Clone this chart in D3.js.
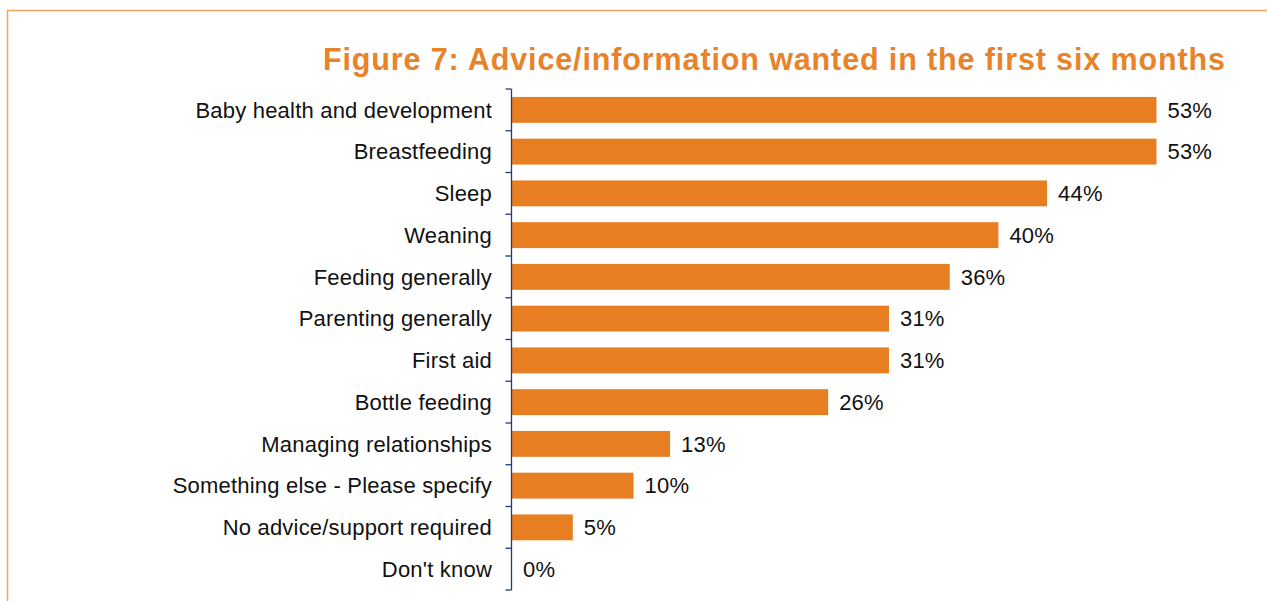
<!DOCTYPE html>
<html>
<head>
<meta charset="utf-8">
<script src="https://cdn.jsdelivr.net/npm/d3@7"></script>
<style>
  html, body { margin: 0; padding: 0; background: #fff; }
  svg { display: block; }
</style>
</head>
<body>
<svg id="chart" width="1267" height="601"></svg>
<script>
const categories = [
  "Baby health and development",
  "Breastfeeding",
  "Sleep",
  "Weaning",
  "Feeding generally",
  "Parenting generally",
  "First aid",
  "Bottle feeding",
  "Managing relationships",
  "Something else - Please specify",
  "No advice/support required",
  "Don't know"
];
const values = [53, 53, 44, 40, 36, 31, 31, 26, 13, 10, 5, 0];
const valueLabels = ["53%", "53%", "44%", "40%", "36%", "31%", "31%", "26%", "13%", "10%", "5%", "0%"];
const titleText = "Figure 7: Advice/information wanted in the first six months";

const svg = d3.select("#chart");
const orange = "#E87E22";
const fontFam = "'Liberation Sans', Arial, sans-serif";

// frame
svg.append("path")
  .attr("d", "M7.5,601 L7.5,10.5 L1267,10.5")
  .attr("fill", "none")
  .attr("stroke", "#F0A55E")
  .attr("stroke-width", 1.5);

// title
svg.append("text")
  .attr("x", 1225).attr("y", 70)
  .attr("text-anchor", "end")
  .style("font-family", fontFam)
  .attr("font-weight", "bold")
  .attr("font-size", 30.5)
  .attr("fill", "#E8832A")
  .attr("textLength", 902)
  .attr("lengthAdjust", "spacing")
  .text(titleText);

const x0 = 512;
const x = d3.scaleLinear().domain([0, 60]).range([x0, x0 + 729.6]);
const y = d3.scaleBand().domain(categories).range([89, 590]).paddingInner(0.38).paddingOuter(0.19);

// bars
svg.append("g").selectAll("rect")
  .data(values)
  .join("rect")
  .attr("x", x(0))
  .attr("y", (d, i) => y(categories[i]))
  .attr("width", d => x(d) - x(0))
  .attr("height", y.bandwidth())
  .attr("fill", orange);

// axis
const axisG = svg.append("g").attr("transform", `translate(${x0 - 0.5},0)`);
axisG.append("line")
  .attr("x1", 0).attr("x2", 0)
  .attr("y1", 89).attr("y2", 590)
  .attr("stroke", "#1F3A80").attr("stroke-width", 1.3);
const bounds = categories.map(c => y(c) - y.step() * y.paddingInner() / 2);
bounds.push(590);
axisG.selectAll("line.tick")
  .data(bounds)
  .join("line")
  .attr("class", "tick")
  .attr("x1", -6).attr("x2", 0)
  .attr("y1", d => d).attr("y2", d => d)
  .attr("stroke", "#1F3A80").attr("stroke-width", 1.3);

// category labels
svg.append("g").selectAll("text")
  .data(categories)
  .join("text")
  .attr("x", 492)
  .attr("y", d => y(d) + y.bandwidth() / 2)
  .attr("dy", "0.35em")
  .attr("text-anchor", "end")
  .style("font-family", fontFam)
  .attr("font-size", 22)
  .attr("letter-spacing", "0.2px")
  .attr("fill", "#111")
  .text(d => d);

// value labels
svg.append("g").selectAll("text")
  .data(values)
  .join("text")
  .attr("x", d => x(d) + 11)
  .attr("y", (d, i) => y(categories[i]) + y.bandwidth() / 2)
  .attr("dy", "0.35em")
  .style("font-family", fontFam)
  .attr("font-size", 22)
  .attr("letter-spacing", "0.2px")
  .attr("fill", "#111")
  .text((d, i) => valueLabels[i]);
</script>
</body>
</html>
